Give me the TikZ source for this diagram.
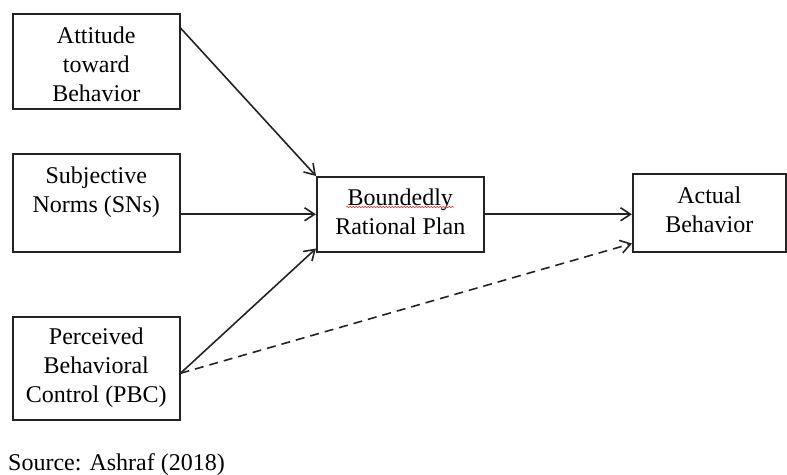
\documentclass[tikz,border=0pt]{standalone}
\usepackage{fontspec}
\setmainfont{Liberation Serif}
\usetikzlibrary{arrows.meta, positioning, decorations.pathmorphing}
\definecolor{linegray}{RGB}{35,35,35}
\definecolor{spellred}{RGB}{230,40,40}

\begin{document}
\begin{tikzpicture}[
    x=1pt, y=-1pt,
    every node/.style={font=\fontsize{24pt}{29pt}\selectfont},
    box/.style={rectangle, draw=linegray, line width=1.5pt, anchor=north west,
        inner sep=0pt},
    lbl/.style={align=center, inner sep=0pt, anchor=north},
    arr/.style={-{Straight Barb[length=10pt,width=13pt,line width=1.6pt]},
        draw=linegray, line width=1.6pt},
    dasharr/.style={arr, dash pattern=on 9pt off 6pt},
    squiggle/.style={draw=spellred, line width=0.6pt,
        decorate, decoration={snake, amplitude=0.7pt, segment length=3pt}},
]
\useasboundingbox (0,0) rectangle (787,474);

% ===== LEFT: three antecedents =====
\node[box, minimum width=167pt, minimum height=95pt] (att) at (12,13) {};
\node[box, minimum width=167pt, minimum height=98pt] (sn)  at (12,153) {};
\node[box, minimum width=167pt, minimum height=103pt] (pbc) at (12,316) {};

\node[lbl] (attT) at ([yshift=-14pt]att.north)
    {Attitude\\toward\hspace*{20pt}\\Behavior};
\node[lbl] (snT)  at ([yshift=-14pt]sn.north)
    {Subjective\\Norms (SNs)};
\node[lbl] (pbcT) at ([yshift=-12pt]pbc.north)
    {Perceived\\Behavioral\\Control (PBC)};

% ===== MIDDLE / RIGHT: plan and behavior =====
\node[box, minimum width=167pt, minimum height=75pt] (brp) at (316,176) {};
\node[box, minimum width=153pt, minimum height=78pt] (act) at (632,173) {};

\node[lbl] (brpT) at ([yshift=-13pt]brp.north) {Boundedly\\Rational Plan};
\node[lbl] (actT) at ([yshift=-14pt]act.north) {Actual\\Behavior};

% spell-check underline under "Boundedly"
\draw[squiggle] ([xshift=-54pt,yshift=-18pt]brpT.north) -- ++(108,0);

% ===== connectors =====
\draw[arr] ([yshift=-15pt]att.north east) -- (brp.north west);
\draw[arr] (sn.east |- brp.west) -- (brp.west);
\draw[arr] ([yshift=-5pt]pbc.east) -- ([yshift=4pt]brp.south west);
\draw[arr] (brp.east) -- (act.west |- brp.east);
\draw[dasharr] ([yshift=-5pt]pbc.east) -- ([yshift=9pt]act.south west);

\node[anchor=base west, inner sep=0pt] (src) at (8,470) {Source: Ashraf (2018)};

\end{tikzpicture}
\end{document}
